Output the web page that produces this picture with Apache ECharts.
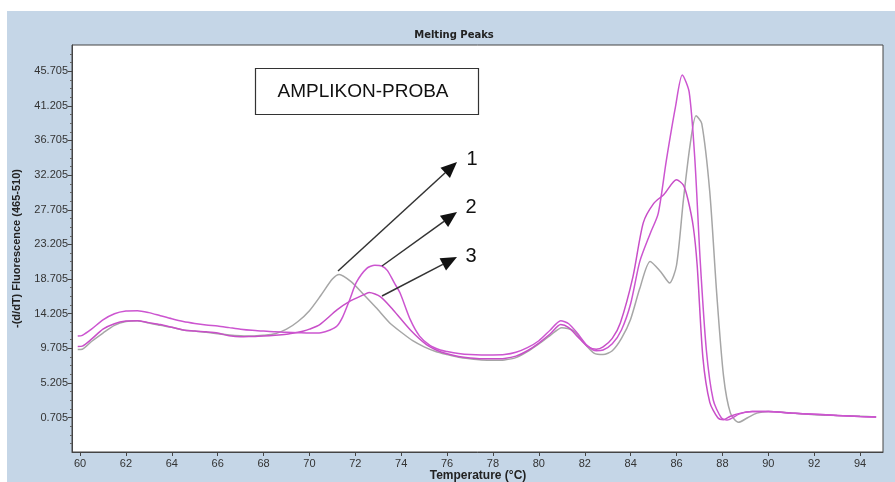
<!DOCTYPE html>
<html><head><meta charset="utf-8">
<script src="https://cdn.jsdelivr.net/npm/echarts@6/dist/echarts.min.js"></script>
<style>html,body{margin:0;padding:0;background:#fff}#c{width:895px;height:482px}</style>
</head><body><div id="c"></div>
<script>
const xTicks = [60,62,64,66,68,70,72,74,76,78,80,82,84,86,88,90,92,94];
const yTicks = [0.705,5.205,9.705,14.205,18.705,23.205,27.705,32.205,36.705,41.205,45.705];

// curve 1 (grey)
const temp1 = [59.9,60.1,60.5,61.0,61.5,62.0,62.5,63.0,63.5,64.0,64.5,65.0,65.5,66.0,66.5,67.0,67.5,68.0,68.5,69.0,69.5,70.0,70.5,71.0,71.3,71.8,72.3,72.9,73.5,74.0,74.5,75.0,75.5,76.0,76.5,77.0,77.5,78.0,78.5,79.0,79.5,80.0,80.5,81.0,81.5,82.0,82.4,82.8,83.2,83.6,84.0,84.4,84.85,85.3,85.7,86.0,86.3,86.6,86.85,87.1,87.45,87.75,88.05,88.35,88.7,89.1,89.5,90.0,91.0,92.0,93.0,94.0,94.7];
const val1  = [9.55,9.6,10.6,11.7,12.7,13.2,13.3,13.0,12.7,12.45,12.1,11.95,11.8,11.6,11.45,11.35,11.3,11.4,11.6,12.2,13.2,14.6,16.6,18.7,19.3,18.4,16.9,15.0,13.0,11.8,10.7,9.9,9.3,8.9,8.55,8.35,8.2,8.15,8.2,8.5,9.3,10.3,11.4,12.4,12.0,10.3,9.1,8.9,9.4,11.0,13.5,17.5,21.0,19.7,18.2,20.5,29.0,36.3,39.9,38.9,30.0,16.9,6.1,1.3,0.1,0.7,1.3,1.5,1.3,1.1,1.0,0.9,0.8];

// curve 2 (magenta, sharp peaks)
const temp2 = [59.9,60.1,60.5,61.0,61.5,62.0,62.5,63.0,63.5,64.0,64.5,65.0,65.5,66.0,66.5,67.0,67.5,68.0,68.5,69.0,69.5,70.0,70.5,70.9,71.2,71.45,71.75,72.05,72.5,72.85,73.15,73.4,73.7,73.95,74.4,74.8,75.25,75.7,76.0,76.5,77.0,77.5,78.0,78.5,79.0,79.5,80.0,80.5,80.95,81.3,81.7,82.1,82.5,82.8,83.2,83.6,84.0,84.4,84.85,85.2,85.55,85.95,86.25,86.55,86.8,87.03,87.3,87.6,87.95,88.2,88.75,89.3,90.0,91.0,92.0,93.0,94.0,94.7];
const val2  = [11.3,11.4,12.2,13.4,14.2,14.55,14.6,14.35,13.95,13.55,13.2,12.95,12.75,12.6,12.4,12.2,12.05,11.95,11.85,11.8,11.75,11.7,11.75,12.1,12.6,13.8,16.0,18.3,20.1,20.5,20.4,19.8,18.2,16.9,13.4,11.3,10.1,9.5,9.3,9.05,8.9,8.85,8.85,8.9,9.2,9.8,10.7,12.1,13.3,12.9,11.6,10.1,9.4,9.5,10.3,12.1,15.5,21.0,24.6,27.2,34.0,41.0,45.2,43.0,34.2,21.2,9.5,3.0,0.7,0.4,1.2,1.5,1.5,1.3,1.15,1.0,0.85,0.8];

// curve 3 (magenta, broad peaks)
const temp3 = [59.9,60.1,60.5,61.0,61.5,62.0,62.5,63.0,63.5,64.0,64.5,65.0,65.5,66.0,66.5,67.0,67.5,68.0,68.5,69.0,69.5,69.75,70.0,70.45,71.2,71.75,72.35,72.6,73.1,73.65,74.4,75.1,75.6,76.0,76.5,77.0,77.5,78.0,78.5,79.0,79.5,80.0,80.5,80.95,81.3,81.7,82.1,82.5,82.8,83.2,83.55,84.1,84.55,85.0,85.45,86.0,86.3,86.5,86.73,86.9,87.15,87.45,87.8,88.05,88.35,88.8,89.3,90.0,91.0,92.0,93.0,94.0,94.7];
const val3  = [9.95,10.0,10.9,12.2,12.9,13.25,13.3,13.05,12.8,12.45,12.1,11.95,11.85,11.7,11.35,11.2,11.25,11.3,11.4,11.55,11.8,11.95,12.2,12.8,14.7,15.8,16.65,16.95,16.4,14.7,12.1,10.2,9.4,9.0,8.65,8.45,8.35,8.35,8.4,8.7,9.4,10.4,11.6,12.8,12.4,11.2,10.0,9.6,9.9,11.0,13.0,19.0,26.0,28.5,29.7,31.6,30.9,29.0,25.5,20.5,8.5,2.7,0.7,0.45,0.9,1.3,1.5,1.5,1.3,1.15,1.0,0.85,0.8];

const pairs = (t, v) => t.map((x, i) => [x, v[i]]);
const yMinor = [];
for (let k = -3; k <= 43; k++) { const v = 0.705 + k * 1.125; if (k % 4 !== 0 && v > -3.7 && v < 49) yMinor.push(+v.toFixed(4)); }

function arrow(x1, y1, x2, y2) {
  const dx = x2 - x1, dy = y2 - y1, L = Math.hypot(dx, dy), ux = dx / L, uy = dy / L;
  const hl = 16, hw = 7, bx = x2 - ux * hl, by = y2 - uy * hl;
  return [
    {type: 'line', z: 100, shape: {x1: x1, y1: y1, x2: bx, y2: by}, style: {stroke: '#333', lineWidth: 1.5}},
    {type: 'polygon', z: 100, shape: {points: [[x2, y2], [bx - uy * hw, by + ux * hw], [bx + uy * hw, by - ux * hw]]}, style: {fill: '#111'}}
  ];
}

const font = 'Liberation Sans, Arial, sans-serif';
const chart = echarts.init(document.getElementById('c'));
chart.setOption({
  backgroundColor: '#c5d6e7',
  animation: false,
  title: {text: 'Melting Peaks', left: 449, top: 25, textAlign: 'center',
    textStyle: {fontFamily: 'DejaVu Sans, sans-serif', fontSize: 10, fontWeight: 'bold', color: '#222'}},
  grid: {left: 72, top: 45, right: 12, bottom: 30, show: true, backgroundColor: '#fff', borderColor: '#444', borderWidth: 1,
    containLabel: false, outerBoundsMode: 'none'},
  xAxis: {
    type: 'value', min: 59.65, max: 95.0,
    axisLine: {onZero: false, lineStyle: {color: '#444'}},
    axisTick: {customValues: xTicks, length: 4, lineStyle: {color: '#444'}},
    axisLabel: {customValues: xTicks, fontFamily: font, fontSize: 11, color: '#333', margin: 6},
    splitLine: {show: false}
  },
  yAxis: [{
    type: 'value', min: -3.75, max: 49.1,
    name: '-(d/dT) Fluorescence (465-510)', nameLocation: 'middle', nameGap: 50,
    nameTextStyle: {fontFamily: font, fontSize: 11, fontWeight: 'bold', color: '#222'},
    axisLine: {show: true, onZero: false, lineStyle: {color: '#444'}},
    axisTick: {customValues: yTicks, length: 4, lineStyle: {color: '#444'}},
    axisLabel: {customValues: yTicks, fontFamily: font, fontSize: 11, color: '#333', margin: 4,
      formatter: v => v.toFixed(3)},
    splitLine: {show: false}
  }, {
    type: 'value', min: -3.75, max: 49.1, position: 'left',
    axisLine: {show: false, onZero: false},
    axisTick: {show: true, customValues: yMinor, length: 2, lineStyle: {color: '#666'}},
    axisLabel: {show: false},
    splitLine: {show: false}
  }],
  series: [
    {name: '1', type: 'line', data: pairs(temp1, val1), showSymbol: false, smooth: 0.25,
      lineStyle: {color: '#a6a6a6', width: 1.5}, z: 2},
    {name: '3', type: 'line', data: pairs(temp3, val3), showSymbol: false, smooth: 0.25,
      lineStyle: {color: '#c84ec8', width: 1.5}, z: 3},
    {name: '2', type: 'line', data: pairs(temp2, val2), showSymbol: false, smooth: 0.25,
      lineStyle: {color: '#cc55d0', width: 1.5}, z: 4}
  ],
  graphic: [
    {type: 'rect', z: -1, shape: {x: 0, y: 0, width: 895, height: 11}, style: {fill: '#fff'}},
    {type: 'rect', z: -1, shape: {x: 0, y: 0, width: 7, height: 482}, style: {fill: '#fff'}},
    {type: 'text', z: 101, style: {x: 478, y: 476, text: 'Temperature (°C)', fontFamily: font, fontSize: 12, fontWeight: 'bold', fill: '#222', align: 'center', verticalAlign: 'middle'}},
    {type: 'rect', z: 100, shape: {x: 255.5, y: 68.5, width: 223, height: 46}, style: {fill: '#fff', stroke: '#333', lineWidth: 1.2}},
    {type: 'text', z: 101, style: {x: 363, y: 92, text: 'AMPLIKON-PROBA', fontFamily: font, fontSize: 19, fill: '#111', align: 'center', verticalAlign: 'middle'}},
    ...arrow(338, 271, 457, 162),
    ...arrow(382, 266, 457, 212),
    ...arrow(382, 296, 457, 257),
    {type: 'text', z: 101, style: {x: 472, y: 159, text: '1', fontFamily: font, fontSize: 20, fill: '#111', align: 'center', verticalAlign: 'middle'}},
    {type: 'text', z: 101, style: {x: 471, y: 207, text: '2', fontFamily: font, fontSize: 20, fill: '#111', align: 'center', verticalAlign: 'middle'}},
    {type: 'text', z: 101, style: {x: 471, y: 256, text: '3', fontFamily: font, fontSize: 20, fill: '#111', align: 'center', verticalAlign: 'middle'}}
  ]
});
</script>
</body></html>
